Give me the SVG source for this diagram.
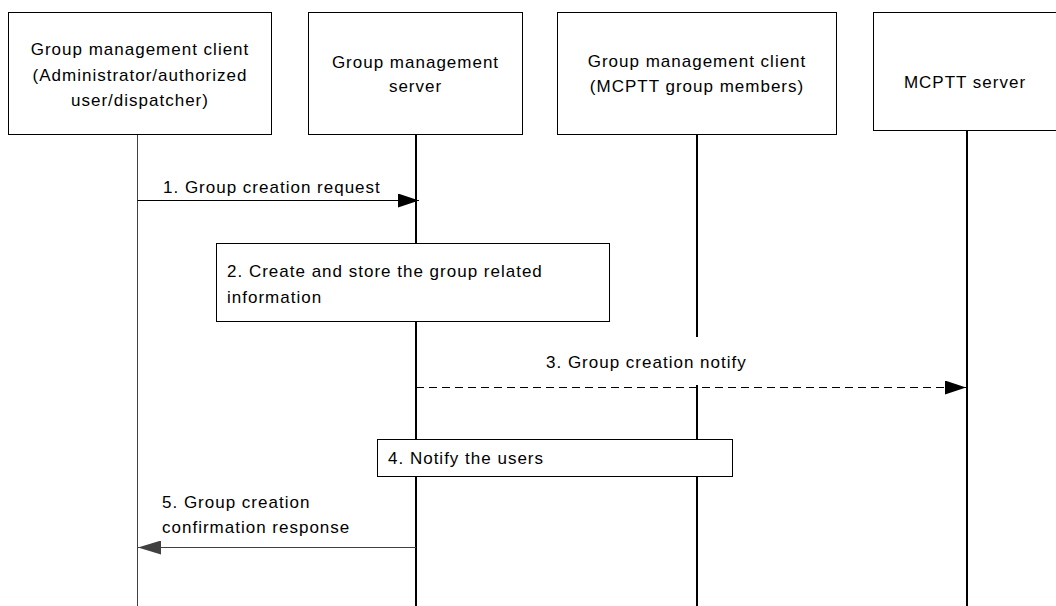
<svg xmlns="http://www.w3.org/2000/svg" width="1056" height="606" viewBox="0 0 1056 606">
<style>
  .box { fill: #ffffff; stroke: #000000; stroke-width: 1; }
  .t { font-family: "Liberation Sans", Arial, sans-serif; font-size: 17px; letter-spacing: 1px; fill: #000000; }
  .c { text-anchor: middle; }
  .life { stroke: #000000; stroke-width: 2; fill: none; }
  .msg { stroke: #000000; stroke-width: 1; fill: none; }
</style>
<defs>
  <marker id="ah" markerWidth="21" markerHeight="14" refX="21" refY="7" orient="auto" markerUnits="userSpaceOnUse">
    <path d="M0,0 L21,7 L0,14 Z" fill="#000000"/>
  </marker>
  <marker id="ahg" markerWidth="23" markerHeight="14" refX="23" refY="7" orient="auto" markerUnits="userSpaceOnUse">
    <path d="M0,0 L23,7 L0,14 Z" fill="#404040"/>
  </marker>
</defs>
<rect width="1056" height="606" fill="#ffffff"/>

<g id="lifelines">
  <line x1="137.5" y1="135" x2="137.5" y2="606" stroke="#404040" stroke-width="1"/>
  <line class="life" x1="416" y1="135" x2="416" y2="606" stroke-width="1.6"/>
  <line class="life" x1="697" y1="135" x2="697" y2="337"/>
  <line class="life" x1="697" y1="385" x2="697" y2="606"/>
  <line class="life" x1="967" y1="131" x2="967" y2="606"/>
</g>

<g id="node-gmc-admin">
  <rect class="box" x="8.5" y="12.5" width="263" height="122"/>
  <text class="t c" x="140" y="55">Group management client</text>
  <text class="t c" x="140" y="81">(Administrator/authorized</text>
  <text class="t c" x="140" y="106">user/dispatcher)</text>
</g>

<g id="node-gms">
  <rect class="box" x="308.5" y="12.5" width="214" height="122"/>
  <text class="t c" x="415.5" y="68">Group management</text>
  <text class="t c" x="415.5" y="92">server</text>
</g>

<g id="node-gmc-members">
  <rect class="box" x="557.5" y="12.5" width="279" height="122"/>
  <text class="t c" x="697" y="67">Group management client</text>
  <text class="t c" x="697" y="92">(MCPTT group members)</text>
</g>

<g id="node-mcptt">
  <rect class="box" x="873.5" y="12.5" width="190" height="118"/>
  <text class="t c" x="965" y="88">MCPTT server</text>
</g>

<g id="step2">
  <rect class="box" x="216.5" y="243.5" width="393" height="78"/>
  <text class="t" x="227" y="277">2. Create and store the group related</text>
  <text class="t" x="227" y="303">information</text>
</g>

<g id="step4">
  <rect class="box" x="377.5" y="439.5" width="355" height="37"/>
  <text class="t" x="388" y="464" letter-spacing="0.4">4. Notify the users</text>
</g>

<g id="connectors">
  <line class="msg" x1="137.5" y1="200.5" x2="419" y2="200.5" marker-end="url(#ah)"/>
  <text class="t" x="163" y="193">1. Group creation request</text>

  <line class="msg" x1="416" y1="387.5" x2="966" y2="387.5" stroke-dasharray="8,5" marker-end="url(#ah)"/>
  <text class="t" x="546" y="368">3. Group creation notify</text>

  <line x1="416" y1="547.5" x2="138" y2="547.5" stroke="#404040" stroke-width="1" marker-end="url(#ahg)"/>
  <text class="t" x="162" y="508" letter-spacing="0.4">5. Group creation</text>
  <text class="t" x="162" y="533" letter-spacing="0.4">confirmation response</text>
</g>
</svg>
